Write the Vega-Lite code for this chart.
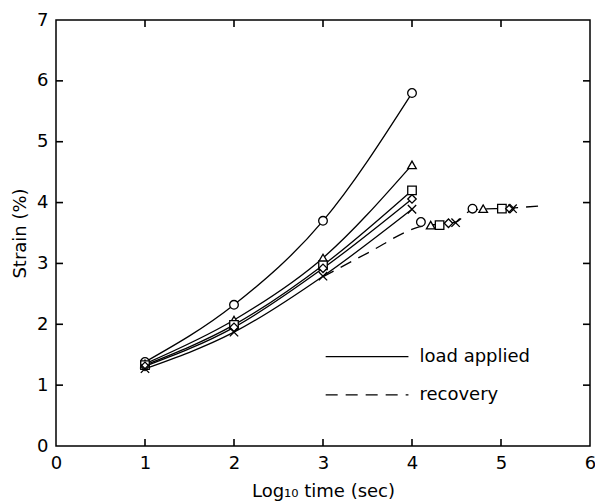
{
  "$schema": "https://vega.github.io/schema/vega-lite/v6.json",
  "autosize": "none",
  "width": 534,
  "height": 426,
  "padding": {"left": 56, "top": 20, "right": 5, "bottom": 57},
  "background": "white",
  "config": {
    "view": {"stroke": "black", "strokeWidth": 1.5},
    "font": "DejaVu Sans",
    "axis": {
      "domain": false, "ticks": false,
      "grid": false, "labelFlush": false,
      "labelFont": "DejaVu Sans", "labelFontSize": 18, "labelColor": "black",
      "titleFont": "DejaVu Sans", "titleFontSize": 18, "titleFontWeight": "normal", "titleColor": "black"
    }
  },
  "datasets": {
    "load": [
      {"t": 1, "s": 1.38, "g": "A"}, {"t": 2, "s": 2.32, "g": "A"}, {"t": 3, "s": 3.70, "g": "A"}, {"t": 4, "s": 5.80, "g": "A"},
      {"t": 1, "s": 1.35, "g": "B"}, {"t": 2, "s": 2.07, "g": "B"}, {"t": 3, "s": 3.09, "g": "B"}, {"t": 4, "s": 4.62, "g": "B"},
      {"t": 1, "s": 1.33, "g": "C"}, {"t": 2, "s": 1.99, "g": "C"}, {"t": 3, "s": 2.97, "g": "C"}, {"t": 4, "s": 4.20, "g": "C"},
      {"t": 1, "s": 1.31, "g": "D"}, {"t": 2, "s": 1.95, "g": "D"}, {"t": 3, "s": 2.92, "g": "D"}, {"t": 4, "s": 4.06, "g": "D"},
      {"t": 1, "s": 1.27, "g": "E"}, {"t": 2, "s": 1.87, "g": "E"}, {"t": 3, "s": 2.79, "g": "E"}, {"t": 4, "s": 3.89, "g": "E"}
    ],
    "recpts": [
      {"t": 4.10, "s": 3.68, "g": "A"}, {"t": 4.21, "s": 3.63, "g": "B"}, {"t": 4.31, "s": 3.63, "g": "C"}, {"t": 4.41, "s": 3.66, "g": "D"}, {"t": 4.49, "s": 3.67, "g": "E"},
      {"t": 4.68, "s": 3.90, "g": "A"}, {"t": 4.80, "s": 3.90, "g": "B"}, {"t": 5.01, "s": 3.90, "g": "C"}, {"t": 5.10, "s": 3.90, "g": "D"}, {"t": 5.13, "s": 3.90, "g": "E"}
    ],
    "recline": [
      {"t": 3.0, "s": 2.78}, {"t": 3.5, "s": 3.17}, {"t": 4.08, "s": 3.60}, {"t": 4.49, "s": 3.68},
      {"t": 4.68, "s": 3.88}, {"t": 5.1, "s": 3.91}, {"t": 5.5, "s": 3.95}
    ],
    "legend": [
      {"x1": 3.03, "x2": 3.96, "y": 1.47, "label": "load applied", "kind": "solid"},
      {"x1": 3.03, "x2": 3.96, "y": 0.84, "label": "recovery", "kind": "dashed"}
    ],
    "xticks": [
      {"tx": 1, "ty": 0}, {"tx": 2, "ty": 0}, {"tx": 3, "ty": 0}, {"tx": 4, "ty": 0}, {"tx": 5, "ty": 0},
      {"tx": 1, "ty": 7}, {"tx": 2, "ty": 7}, {"tx": 3, "ty": 7}, {"tx": 4, "ty": 7}, {"tx": 5, "ty": 7}
    ],
    "yticks": [
      {"tx": 0, "ty": 1}, {"tx": 0, "ty": 2}, {"tx": 0, "ty": 3}, {"tx": 0, "ty": 4}, {"tx": 0, "ty": 5}, {"tx": 0, "ty": 6},
      {"tx": 6, "ty": 1}, {"tx": 6, "ty": 2}, {"tx": 6, "ty": 3}, {"tx": 6, "ty": 4}, {"tx": 6, "ty": 5}, {"tx": 6, "ty": 6}
    ]
  },
  "resolve": {"axis": {"x": "independent", "y": "independent"}},
  "layer": [
    {
      "data": {"name": "load"},
      "mark": {"type": "line", "color": "black", "strokeWidth": 1.3, "interpolate": "monotone"},
      "encoding": {
        "x": {"field": "t", "type": "quantitative", "scale": {"domain": [0, 6], "nice": false},
              "axis": {"orient": "bottom", "values": [0, 1, 2, 3, 4, 5, 6], "title": "Log₁₀ time (sec)",
                       "labelPadding": 8, "titlePadding": 10}},
        "y": {"field": "s", "type": "quantitative", "scale": {"domain": [0, 7], "nice": false},
              "axis": {"orient": "left", "values": [0, 1, 2, 3, 4, 5, 6, 7], "title": "Strain  (%)",
                       "labelPadding": 8, "titlePadding": 7}},
        "detail": {"field": "g"}
      }
    },
    {
      "data": {"name": "recline"},
      "mark": {"type": "line", "color": "black", "strokeWidth": 1.3, "strokeDash": [12, 8], "interpolate": "monotone"},
      "encoding": {
        "x": {"field": "t", "type": "quantitative", "axis": null},
        "y": {"field": "s", "type": "quantitative", "axis": null}
      }
    },
    {
      "data": {"name": "xticks"},
      "mark": {"type": "tick", "orient": "vertical", "color": "black", "size": 14, "thickness": 1.6, "opacity": 1, "clip": true},
      "encoding": {
        "x": {"field": "tx", "type": "quantitative", "axis": null},
        "y": {"field": "ty", "type": "quantitative", "axis": null}
      }
    },
    {
      "data": {"name": "yticks"},
      "mark": {"type": "tick", "orient": "horizontal", "color": "black", "size": 14, "thickness": 1.6, "opacity": 1, "clip": true},
      "encoding": {
        "x": {"field": "tx", "type": "quantitative", "axis": null},
        "y": {"field": "ty", "type": "quantitative", "axis": null}
      }
    },
    {
      "data": {"name": "load"},
      "mark": {"type": "point", "filled": true, "fill": "white", "stroke": "black", "strokeWidth": 1.3, "opacity": 1},
      "encoding": {
        "x": {"field": "t", "type": "quantitative", "axis": null},
        "y": {"field": "s", "type": "quantitative", "axis": null},
        "shape": {"field": "g", "type": "nominal", "legend": null,
                  "scale": {"domain": ["A", "B", "C", "D", "E"], "range": ["circle", "triangle-up", "square", "diamond", "M-1,-1L1,1M-1,1L1,-1"]}},
        "size": {"field": "g", "type": "nominal", "legend": null,
                 "scale": {"domain": ["A", "B", "C", "D", "E"], "range": [75, 70, 80, 45, 45]}}
      }
    },
    {
      "data": {"name": "recpts"},
      "mark": {"type": "point", "filled": true, "fill": "white", "stroke": "black", "strokeWidth": 1.3, "opacity": 1},
      "encoding": {
        "x": {"field": "t", "type": "quantitative", "axis": null},
        "y": {"field": "s", "type": "quantitative", "axis": null},
        "shape": {"field": "g", "type": "nominal", "legend": null},
        "size": {"field": "g", "type": "nominal", "legend": null}
      }
    },
    {
      "data": {"name": "legend"},
      "mark": {"type": "rule", "color": "black", "strokeWidth": 1.3},
      "encoding": {
        "x": {"field": "x1", "type": "quantitative", "axis": null},
        "x2": {"field": "x2"},
        "y": {"field": "y", "type": "quantitative", "axis": null},
        "strokeDash": {"field": "kind", "type": "nominal", "legend": null,
                       "scale": {"domain": ["solid", "dashed"], "range": [[1, 0], [12, 8]]}}
      }
    },
    {
      "data": {"name": "legend"},
      "mark": {"type": "text", "align": "left", "baseline": "middle", "fontSize": 18, "font": "DejaVu Sans", "color": "black", "dx": 11},
      "encoding": {
        "x": {"field": "x2", "type": "quantitative", "axis": null},
        "y": {"field": "y", "type": "quantitative", "axis": null},
        "text": {"field": "label"}
      }
    }
  ]
}
